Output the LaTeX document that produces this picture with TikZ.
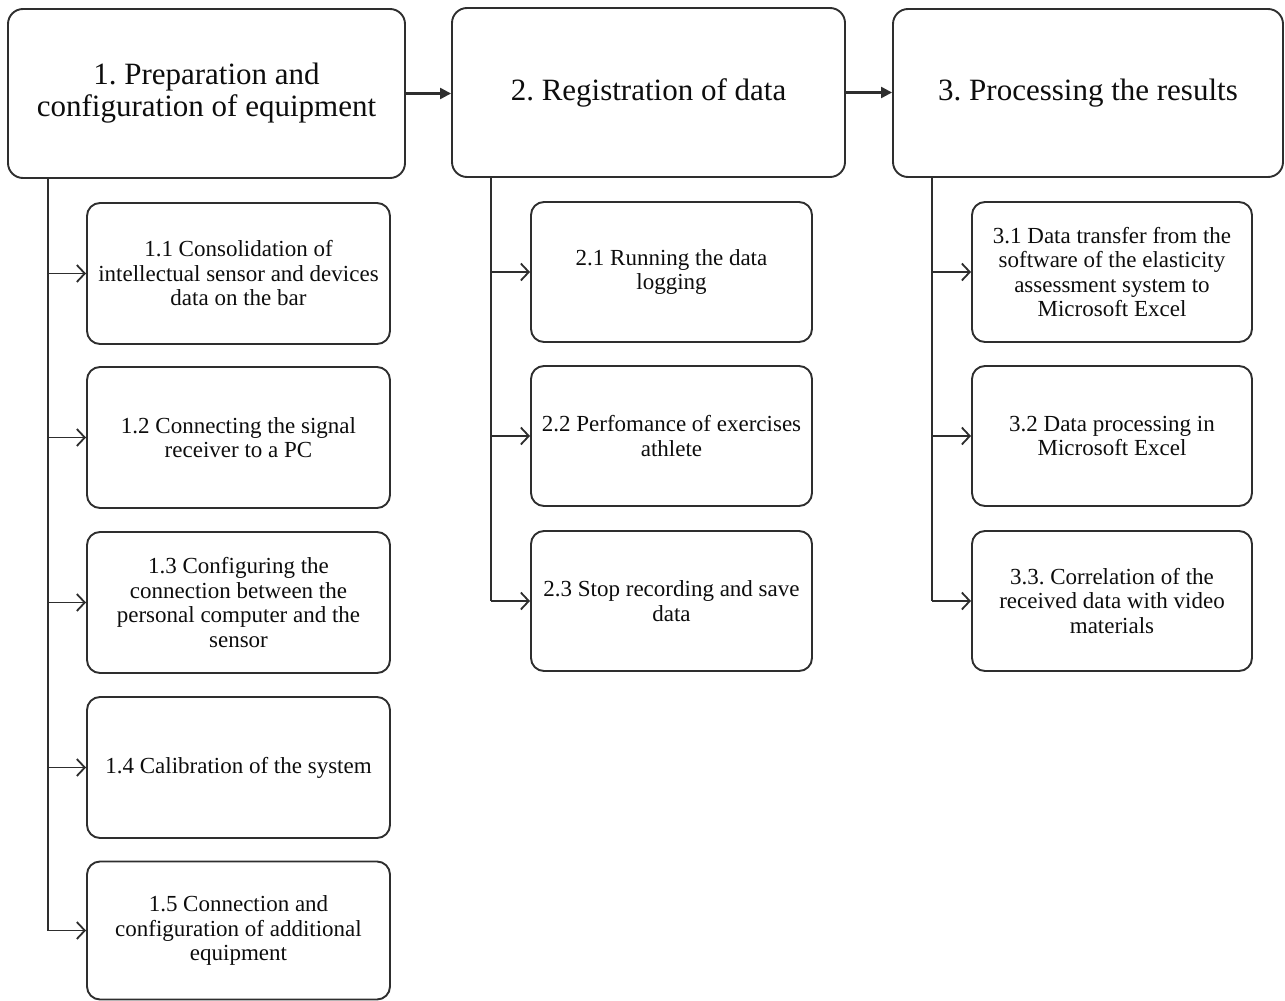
\documentclass[tikz,border=0pt]{standalone}
\usepackage{fontspec}
\setmainfont{Liberation Serif}
\usetikzlibrary{arrows.meta}
\definecolor{ln}{HTML}{2E2E2E}
\definecolor{tx}{HTML}{0D0D0D}
\frenchspacing
\begin{document}
\begin{tikzpicture}[x=1pt,y=-1pt,
  mainbox/.style={draw=ln,line width=1.9pt,rounded corners=15pt,align=center,text=tx,
    font=\fontsize{31}{32}\selectfont,inner sep=0pt},
  subbox/.style={draw=ln,line width=1.9pt,rounded corners=13pt,align=center,text=tx,
    font=\fontsize{23}{24.5}\selectfont,inner sep=0pt},
  conn/.style={draw=ln,line width=1.8pt},
  subarr/.style={conn,-{Straight Barb[length=8pt,width=17pt,line width=1.8pt]}},
  mainarr/.style={conn,line width=2.3pt,-{Triangle[length=11pt,width=11pt]}}]
\useasboundingbox (0,0) rectangle (1285,1001);
% main boxes
\node[mainbox,minimum width=397pt,minimum height=169pt] (b1) at (206.5,93.5) {1. Preparation and\\configuration of equipment};
\node[mainbox,minimum width=393pt,minimum height=169pt] (b2) at (648.5,92.5) {2. Registration of data};
\node[mainbox,minimum width=390pt,minimum height=168pt] (b3) at (1088,93) {3. Processing the results};
% column 1
\node[subbox,minimum width=303pt,minimum height=141pt] (s11) at (238.5,273.5) {1.1 Consolidation of\\intellectual sensor and devices\\data on the bar};
\node[subbox,minimum width=303pt,minimum height=141pt] (s12) at (238.5,437.5) {1.2 Connecting the signal\\receiver to a PC};
\node[subbox,minimum width=303pt,minimum height=141pt] (s13) at (238.5,602.5) {1.3 Configuring the\\connection between the\\personal computer and the\\sensor};
\node[subbox,minimum width=303pt,minimum height=141pt] (s14) at (238.5,767.5) {1.4 Calibration of the system};
\node[subbox,minimum width=303pt,minimum height=138pt] (s15) at (238.5,930.5) {1.5 Connection and\\configuration of additional\\equipment};
% column 2
\node[subbox,minimum width=281pt,minimum height=140pt] (s21) at (671.5,272) {2.1 Running the data\\logging};
\node[subbox,minimum width=281pt,minimum height=140pt] (s22) at (671.5,436) {2.2 Perfomance of exercises\\athlete};
\node[subbox,minimum width=281pt,minimum height=140pt] (s23) at (671.5,601) {2.3 Stop recording and save\\data};
% column 3
\node[subbox,minimum width=280pt,minimum height=140pt] (s31) at (1112,272) {3.1 Data transfer from the\\software of the elasticity\\assessment system to\\Microsoft Excel};
\node[subbox,minimum width=280pt,minimum height=140pt] (s32) at (1112,436) {3.2 Data processing in\\Microsoft Excel};
\node[subbox,minimum width=280pt,minimum height=140pt] (s33) at (1112,601) {3.3. Correlation of the\\received data with video\\materials};
% main arrows
\draw[mainarr] (b1.east) -- (b2.west |- b1.east);
\draw[mainarr] (b2.east) -- (b3.west |- b2.east);
% spines
\coordinate (c1) at (48,0);
\coordinate (c2) at (491,0);
\coordinate (c3) at (932,0);
\draw[conn] (b1.south -| c1) -- (c1 |- s15.west);
\draw[conn] (b2.south -| c2) -- (c2 |- s23.west);
\draw[conn] (b3.south -| c3) -- (c3 |- s33.west);
\foreach \s in {s11,s12,s13,s14,s15}{\draw[subarr] (c1 |- \s.west) -- (\s.west);}
\foreach \s in {s21,s22,s23}{\draw[subarr] (c2 |- \s.west) -- (\s.west);}
\foreach \s in {s31,s32,s33}{\draw[subarr] (c3 |- \s.west) -- (\s.west);}
\end{tikzpicture}
\end{document}
